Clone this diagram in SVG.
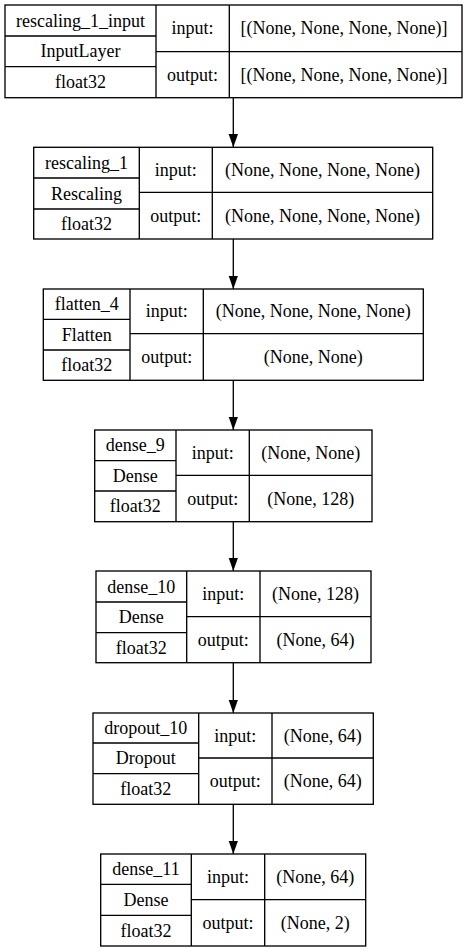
<svg xmlns="http://www.w3.org/2000/svg" width="467" height="952" viewBox="0 0 467 952">
<style>
.b{fill:#fff;stroke:#000;stroke-width:1.33}
.l{fill:none;stroke:#000;stroke-width:1.33}
text{font-family:"Liberation Serif","Times New Roman",serif;font-size:18px;fill:#000;text-anchor:middle}
.e{fill:none;stroke:#000;stroke-width:1.33}
</style>
<defs>
<marker id="ah" markerUnits="userSpaceOnUse" markerWidth="14" markerHeight="10" refX="13.3" refY="4.7" orient="auto">
<path d="M0,0 L13.3,4.7 L0,9.4 Z" fill="#000"/>
</marker>
</defs>
<rect width="467" height="952" fill="#fff"/>
<g id="connectors">
<line class="e" x1="233.3" y1="97.7" x2="233.3" y2="147.3" marker-end="url(#ah)"/>
<line class="e" x1="233.3" y1="239" x2="233.3" y2="289" marker-end="url(#ah)"/>
<line class="e" x1="233.3" y1="380.3" x2="233.3" y2="430" marker-end="url(#ah)"/>
<line class="e" x1="233.3" y1="521.7" x2="233.3" y2="571" marker-end="url(#ah)"/>
<line class="e" x1="233.3" y1="662.7" x2="233.3" y2="713" marker-end="url(#ah)"/>
<line class="e" x1="233.3" y1="804.3" x2="233.3" y2="854" marker-end="url(#ah)"/>
</g>
<g id="rescaling_1_input">
<rect class="b" x="5" y="5" width="457" height="92.7"/>
<path class="l" d="M156,5V97.7M229.3,5V97.7M5,36H156M5,66.7H156M156,51.7H462"/>
<text x="80.5" y="26.5">rescaling_1_input</text>
<text x="80.5" y="57.3">InputLayer</text>
<text x="80.5" y="88.2">float32</text>
<text x="192.5" y="34.3">input:</text>
<text x="192.5" y="80.7">output:</text>
<text x="344" y="34.3">[(None, None, None, None)]</text>
<text x="344" y="80.7">[(None, None, None, None)]</text>
</g>
<g id="rescaling_1">
<rect class="b" x="33.7" y="147.3" width="399" height="91.7"/>
<path class="l" d="M139.3,147.3V239M212.3,147.3V239M33.7,178H139.3M33.7,209H139.3M139.3,192.3H432.7"/>
<text x="86.5" y="168.7">rescaling_1</text>
<text x="86.5" y="199.5">Rescaling</text>
<text x="86.5" y="230">float32</text>
<text x="175.8" y="175.8">input:</text>
<text x="175.8" y="221.7">output:</text>
<text x="322.5" y="175.8">(None, None, None, None)</text>
<text x="322.5" y="221.7">(None, None, None, None)</text>
</g>
<g id="flatten_4">
<rect class="b" x="43.3" y="289" width="380" height="91.3"/>
<path class="l" d="M130,289V380.3M203.3,289V380.3M43.3,319.3H130M43.3,350H130M130,333.7H423.3"/>
<text x="86.7" y="310.2">flatten_4</text>
<text x="86.7" y="340.7">Flatten</text>
<text x="86.7" y="371.2">float32</text>
<text x="166.7" y="317.3">input:</text>
<text x="166.7" y="363">output:</text>
<text x="313.3" y="317.3">(None, None, None, None)</text>
<text x="313.3" y="363">(None, None)</text>
</g>
<g id="dense_9">
<rect class="b" x="94.7" y="430" width="277.3" height="91.7"/>
<path class="l" d="M176,430V521.7M249.3,430V521.7M94.7,460.7H176M94.7,491H176M176,475.3H372"/>
<text x="135.3" y="451.3">dense_9</text>
<text x="135.3" y="481.8">Dense</text>
<text x="135.3" y="512.3">float32</text>
<text x="212.7" y="458.7">input:</text>
<text x="212.7" y="504.5">output:</text>
<text x="310.7" y="458.7">(None, None)</text>
<text x="310.7" y="504.5">(None, 128)</text>
</g>
<g id="dense_10">
<rect class="b" x="96" y="571" width="275" height="91.7"/>
<path class="l" d="M186.7,571V662.7M260,571V662.7M96,602H186.7M96,632.7H186.7M186.7,616.7H371"/>
<text x="141.3" y="592.5">dense_10</text>
<text x="141.3" y="623.3">Dense</text>
<text x="141.3" y="653.7">float32</text>
<text x="223.3" y="599.8">input:</text>
<text x="223.3" y="645.7">output:</text>
<text x="315.5" y="599.8">(None, 128)</text>
<text x="315.5" y="645.7">(None, 64)</text>
</g>
<g id="dropout_10">
<rect class="b" x="93" y="713" width="280.3" height="91.3"/>
<path class="l" d="M198.7,713V804.3M272,713V804.3M93,743H198.7M93,773.7H198.7M198.7,758H373.3"/>
<text x="145.8" y="734">dropout_10</text>
<text x="145.8" y="764.3">Dropout</text>
<text x="145.8" y="795">float32</text>
<text x="235.3" y="741.5">input:</text>
<text x="235.3" y="787.2">output:</text>
<text x="322.7" y="741.5">(None, 64)</text>
<text x="322.7" y="787.2">(None, 64)</text>
</g>
<g id="dense_11">
<rect class="b" x="100.7" y="854" width="265" height="92"/>
<path class="l" d="M191.3,854V946M264.7,854V946M100.7,884.3H191.3M100.7,915.3H191.3M191.3,899.7H365.7"/>
<text x="146" y="875.2">dense_11</text>
<text x="146" y="905.8">Dense</text>
<text x="146" y="936.7">float32</text>
<text x="228" y="882.8">input:</text>
<text x="228" y="928.8">output:</text>
<text x="315.2" y="882.8">(None, 64)</text>
<text x="315.2" y="928.8">(None, 2)</text>
</g>
</svg>
